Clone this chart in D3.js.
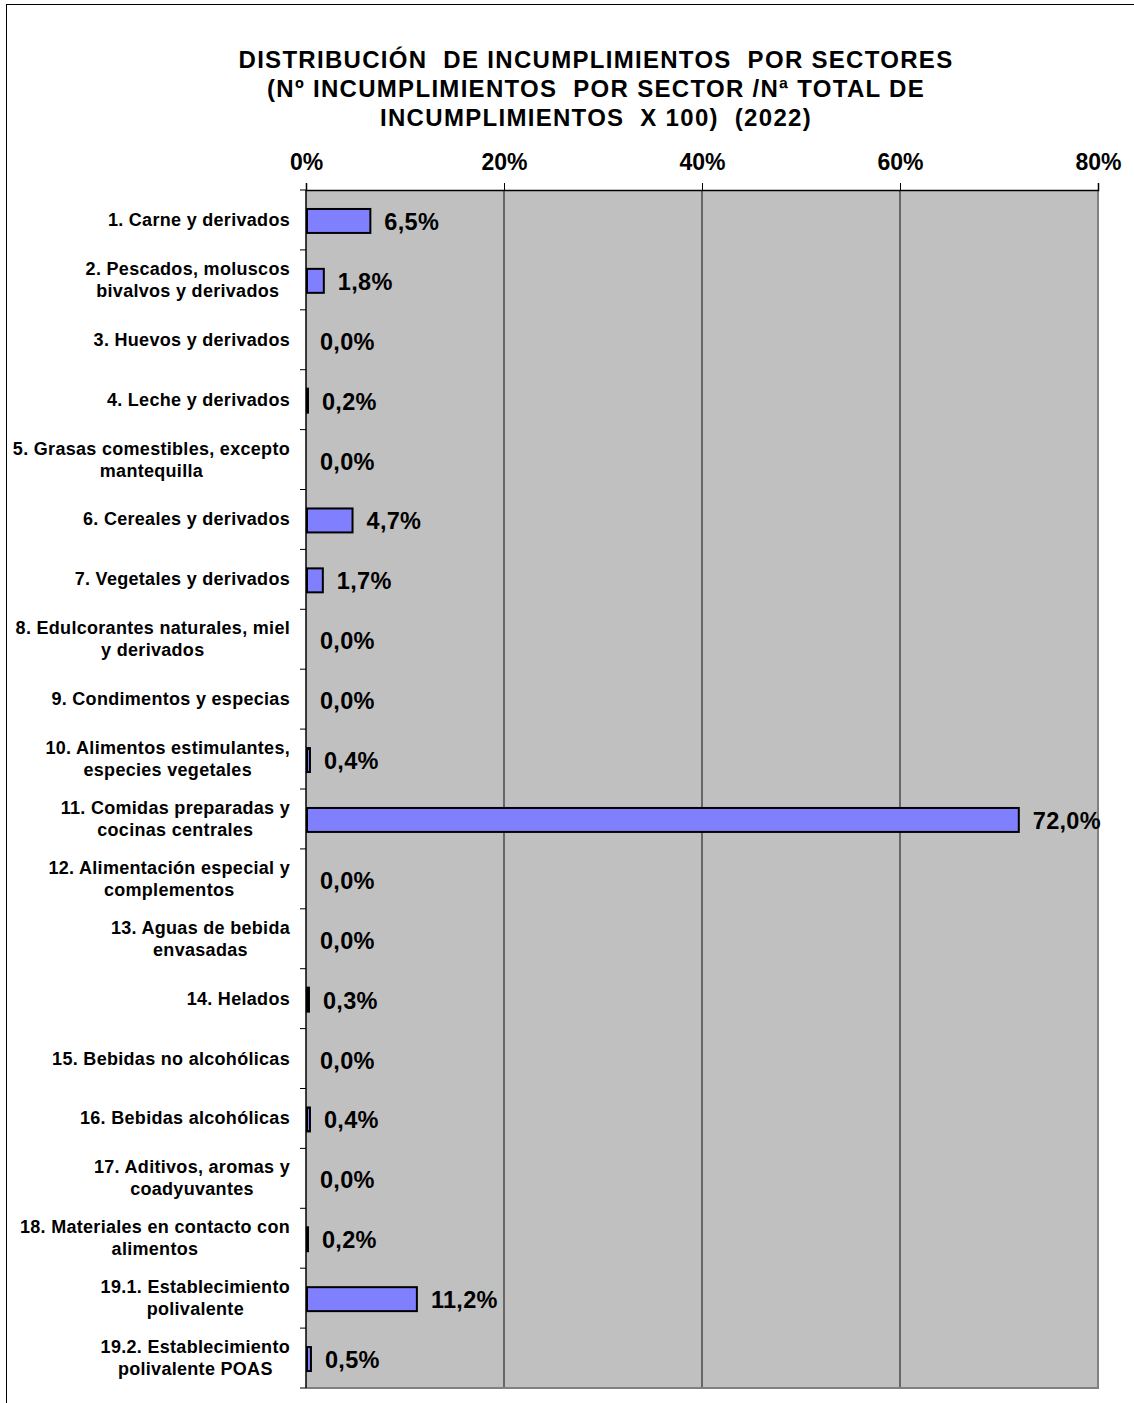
<!DOCTYPE html>
<html lang="es">
<head>
<meta charset="UTF-8">
<title>Distribución de incumplimientos por sectores</title>
<script src="https://d3js.org/d3.v7.min.js"></script>
<style>
  body { margin: 0; background: #fff; }
  text { font-family: "Liberation Sans", Arial, sans-serif; font-weight: bold; fill: #000; }
</style>
</head>
<body>
<svg width="1134" height="1403"></svg>
<script>
// sectors (each entry = lines of the label)
const sectors = [
  ["1. Carne y derivados"],
  ["2. Pescados, moluscos", "bivalvos y derivados"],
  ["3. Huevos y derivados"],
  ["4. Leche y derivados"],
  ["5. Grasas comestibles, excepto", "mantequilla"],
  ["6. Cereales y derivados"],
  ["7. Vegetales y derivados"],
  ["8. Edulcorantes naturales, miel", "y derivados"],
  ["9. Condimentos y especias"],
  ["10. Alimentos estimulantes,", "especies vegetales"],
  ["11. Comidas preparadas y", "cocinas centrales"],
  ["12. Alimentación especial y", "complementos"],
  ["13. Aguas de bebida", "envasadas"],
  ["14. Helados"],
  ["15. Bebidas no alcohólicas"],
  ["16. Bebidas alcohólicas"],
  ["17. Aditivos, aromas y", "coadyuvantes"],
  ["18. Materiales en contacto con", "alimentos"],
  ["19.1. Establecimiento", "polivalente"],
  ["19.2. Establecimiento", "polivalente POAS"]
];

// % of total non-compliances
const percentages = [6.5, 1.8, 0.0, 0.2, 0.0, 4.7, 1.7, 0.0, 0.0, 0.4,
                     72.0, 0.0, 0.0, 0.3, 0.0, 0.4, 0.0, 0.2, 11.2, 0.5];

const xTicks = [0, 20, 40, 60, 80];

const titleLines = [
  "DISTRIBUCIÓN  DE INCUMPLIMIENTOS  POR SECTORES",
  "(Nº INCUMPLIMIENTOS  POR SECTOR /Nª TOTAL DE",
  "INCUMPLIMIENTOS  X 100)  (2022)"
];

const svg = d3.select("svg");
const fmt = v => v.toFixed(1).replace(".", ",") + "%";

// outer frame
svg.append("rect")
  .attr("x", 6.5).attr("y", 4.5)
  .attr("width", 1200).attr("height", 1500)
  .attr("fill", "none").attr("stroke", "#000").attr("stroke-width", 1);

// title
svg.append("g").selectAll("text")
  .data(titleLines)
  .enter().append("text")
  .attr("x", 596)
  .attr("y", (d, i) => 68 + i * 29)
  .attr("text-anchor", "middle")
  .style("font-size", "24px")
  .style("letter-spacing", "1.3px")
  .style("white-space", "pre")
  .text(d => d);

const plotLeft = 306, plotRight = 1098, plotTop = 190, plotBottom = 1388;

const x = d3.scaleLinear().domain([0, 80]).range([plotLeft, plotRight]);
const y = d3.scaleBand().domain(d3.range(sectors.length))
  .range([plotTop, plotBottom]).paddingInner(0.6).paddingOuter(0.3);
const yStep = y.step();

// plot background
svg.append("rect")
  .attr("x", plotLeft).attr("y", plotTop)
  .attr("width", plotRight - plotLeft).attr("height", plotBottom - plotTop)
  .attr("fill", "#c0c0c0");

// gridlines
svg.append("g").selectAll("line")
  .data(xTicks.slice(1, -1))
  .enter().append("line")
  .attr("x1", d => x(d)).attr("x2", d => x(d))
  .attr("y1", plotTop).attr("y2", plotBottom)
  .attr("stroke", "#2a2a2a").attr("stroke-width", 1.2);

// right + bottom border (grey)
svg.append("path")
  .attr("d", `M${plotRight},${plotTop}V${plotBottom}H${plotLeft}`)
  .attr("fill", "none").attr("stroke", "#808080").attr("stroke-width", 2);

// bars
const bars = svg.append("g");
percentages.forEach((v, i) => {
  if (v <= 0) return;
  bars.append("rect")
    .attr("x", x(0) + 1)
    .attr("y", y(i) + 1)
    .attr("width", Math.max(x(v) - x(0) - 1, 0.5))
    .attr("height", y.bandwidth())
    .attr("fill", "#8080ff")
    .attr("stroke", "#000").attr("stroke-width", 2);
});

// top axis
const xAxis = svg.append("g")
  .attr("transform", `translate(0,${plotTop})`)
  .call(d3.axisTop(x).tickValues(xTicks).tickSize(7).tickFormat(d => d + "%"));
xAxis.select(".domain").attr("stroke", "#000").attr("stroke-width", 1.5);
xAxis.selectAll(".tick line").attr("stroke", "#000");
xAxis.selectAll(".tick text")
  .attr("y", -20)
  .style("font-size", "23px")
  .style("font-family", "'Liberation Sans', Arial, sans-serif")
  .style("font-weight", "bold");

// left axis line and category ticks
svg.append("line")
  .attr("x1", plotLeft).attr("x2", plotLeft).attr("y1", plotTop).attr("y2", plotBottom)
  .attr("stroke", "#000").attr("stroke-width", 1.5);
svg.append("g").selectAll("line")
  .data(d3.range(sectors.length + 1))
  .enter().append("line")
  .attr("x1", plotLeft - 6).attr("x2", plotLeft)
  .attr("y1", d => plotTop + d * yStep).attr("y2", d => plotTop + d * yStep)
  .attr("stroke", "#000");

// category labels (centered block, right edge at 290)
const labels = svg.append("g");
sectors.forEach((lines, i) => {
  const cy = y(i) + y.bandwidth() / 2;
  const t = labels.append("text")
    .attr("text-anchor", "middle")
    .style("font-size", "18px")
    .style("letter-spacing", "0.3px");
  const lh = 22;
  const y0 = cy - (lines.length - 1) * lh / 2 + 6;
  lines.forEach((ln, j) => {
    t.append("tspan").attr("y", y0 + j * lh).text(ln);
  });
  let w = 0;
  t.selectAll("tspan").each(function () { w = Math.max(w, this.getComputedTextLength()); });
  t.selectAll("tspan").attr("x", 290 - w / 2);
});

// value labels
svg.append("g").selectAll("text")
  .data(percentages)
  .enter().append("text")
  .attr("x", d => x(d) + 14)
  .attr("y", (d, i) => y(i) + y.bandwidth() / 2 + 10)
  .style("font-size", "23.5px")
  .style("letter-spacing", "0.3px")
  .text(d => fmt(d));
</script>
</body>
</html>
